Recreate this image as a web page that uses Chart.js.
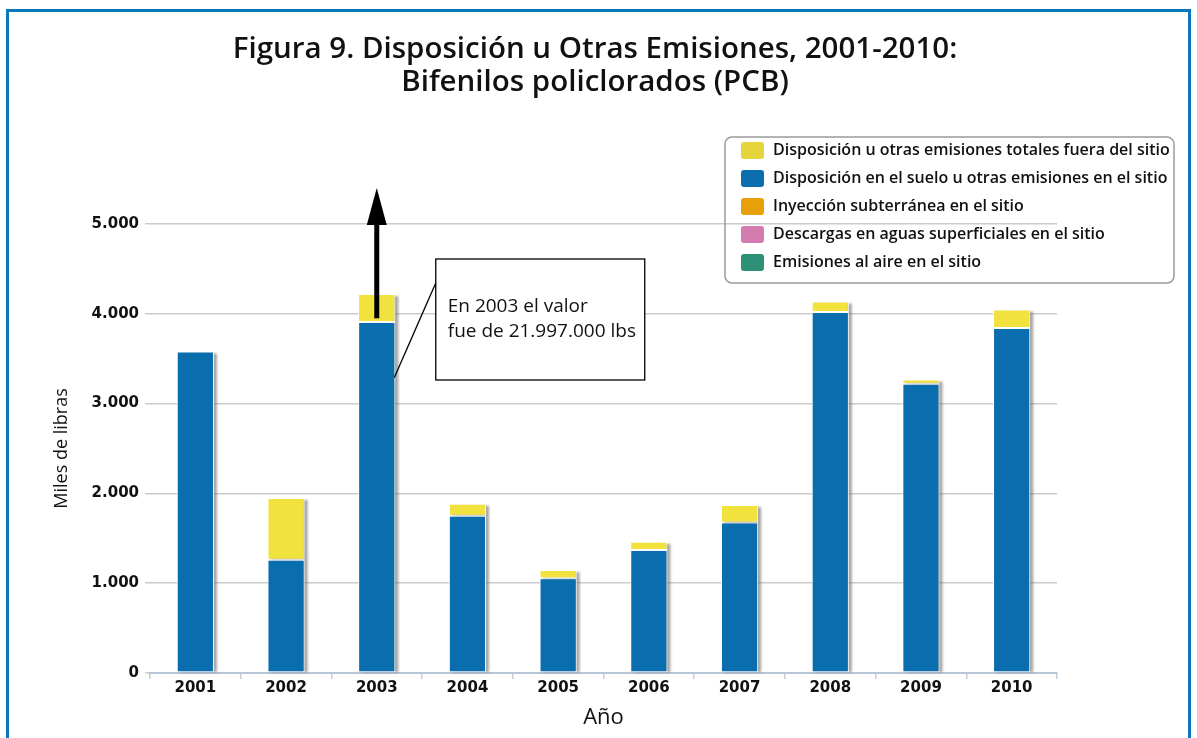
<!DOCTYPE html>
<html lang="es">
<head>
    <meta charset="UTF-8">
    <title>Figura 9 - PCB</title>
    <script src="https://cdn.jsdelivr.net/npm/chart.js"></script>
    <style>
        body { margin: 0; background: #fff; }
        .wrap { position: relative; width: 1197px; height: 738px; overflow: hidden; }
        .frame {
            position: absolute; left: 6px; top: 9px; width: 1185px; height: 780px;
            border: 3px solid #0b78bb; box-sizing: border-box; pointer-events: none;
        }
        canvas { position: absolute; left: 0; top: 0; }
    </style>
</head>
<body>
<div class="wrap">
    <canvas id="chart" width="1197" height="738"></canvas>
    <div class="frame"></div>
</div>

<script>
    // Datos (miles de libras)
    const years = ['2001', '2002', '2003', '2004', '2005', '2006', '2007', '2008', '2009', '2010'];
    const offSite     = [0, 690, 310, 134, 92, 90, 194, 115, 45, 204];
    const onSiteLand  = [3580, 1260, 3910, 1750, 1056, 1371, 1676, 4021, 3222, 3843];
    const underground = [0, 0, 0, 0, 0, 0, 0, 0, 0, 0];
    const surfaceWater = [0, 0, 0, 0, 0, 0, 0, 0, 0, 0];
    const airEmissions = [0, 0, 0, 0, 0, 0, 0, 0, 0, 0];
    const yTicks = [0, 1000, 2000, 3000, 4000, 5000];
    const titleLines = ['Figura 9. Disposición u Otras Emisiones, 2001-2010:', 'Bifenilos policlorados (PCB)'];

    const dotThousands = v => String(v).replace(/\B(?=(\d{3})+(?!\d))/g, '.');

    // titulo centrado en todo el recuadro
    const pageTitle = {
        id: 'pageTitle',
        afterDraw(chart) {
            const ctx = chart.ctx;
            ctx.save();
            ctx.fillStyle = '#111';
            ctx.font = '600 29.5px "Open Sans"';
            ctx.textAlign = 'center';
            ctx.textBaseline = 'middle';
            titleLines.forEach((t, k) => ctx.fillText(t, 595, 50 + k * 33));
            ctx.restore();
        }
    };

    // sombra gris a la derecha de cada columna
    const barShadow = {
        id: 'barShadow',
        beforeDatasetsDraw(chart) {
            const ctx = chart.ctx;
            const metas = chart.getSortedVisibleDatasetMetas();
            ctx.save();
            ctx.fillStyle = 'rgba(110,110,110,0.6)';
            ctx.filter = 'blur(1px)';
            years.forEach((y, i) => {
                let top = Infinity, base = null, el0 = null;
                metas.forEach(m => {
                    const el = m.data[i];
                    if (!chart.data.datasets[m.index].data[i]) return;
                    top = Math.min(top, el.y);
                    base = base === null ? el.base : Math.max(base, el.base);
                    el0 = el;
                });
                if (!el0) return;
                ctx.fillRect(el0.x - el0.width / 2 + 3, top + 2, el0.width, base - top - 2);
            });
            ctx.restore();
        }
    };

    // flecha y nota de 2003
    const note2003 = {
        id: 'note2003',
        afterDatasetsDraw(chart) {
            const ctx = chart.ctx;
            const xs = chart.scales.x, ys = chart.scales.y;
            const i = years.indexOf('2003');
            const x = xs.getPixelForValue(i);
            const yBase = ys.getPixelForValue(onSiteLand[i] + 40);
            const yTip = ys.getPixelForValue(5400);
            const headLen = 37, headW = 10;
            ctx.save();
            ctx.strokeStyle = '#000';
            ctx.fillStyle = '#000';
            ctx.lineWidth = 5;
            ctx.beginPath();
            ctx.moveTo(x, yBase);
            ctx.lineTo(x, yTip + headLen - 2);
            ctx.stroke();
            ctx.beginPath();
            ctx.moveTo(x, yTip);
            ctx.lineTo(x - headW, yTip + headLen);
            ctx.lineTo(x + headW, yTip + headLen);
            ctx.closePath();
            ctx.fill();

            // recuadro
            const bx = x + 59, by = 259, bw = 209, bh = 121;
            ctx.fillStyle = '#fff';
            ctx.fillRect(bx, by, bw, bh);
            ctx.lineWidth = 1.3;
            ctx.strokeRect(bx, by, bw, bh);
            const barEl = chart.getDatasetMeta(3).data[i];
            ctx.beginPath();
            ctx.moveTo(bx, by + 24);
            ctx.lineTo(barEl.x + barEl.width / 2 - 1, ys.getPixelForValue(3290));
            ctx.stroke();
            ctx.fillStyle = '#111';
            ctx.font = '19px "Open Sans"';
            ctx.textBaseline = 'middle';
            ctx.fillText('En 2003 el valor', bx + 12, by + 48);
            ctx.fillText('fue de 21.997.000 lbs', bx + 12, by + 73);
            ctx.restore();
        }
    };

    // leyenda en recuadro
    const boxLegend = {
        id: 'boxLegend',
        afterDraw(chart) {
            const ctx = chart.ctx;
            const left = 725, top = 137, w = 449, h = 146;
            ctx.save();
            ctx.strokeStyle = '#9a9a9a';
            ctx.lineWidth = 1.5;
            ctx.beginPath();
            ctx.roundRect(left, top, w, h, 7);
            ctx.stroke();
            const items = chart.data.datasets.slice().reverse();
            ctx.font = '600 16px "Open Sans"';
            ctx.textBaseline = 'middle';
            items.forEach((ds, k) => {
                const cy = top + 13 + k * 28;
                ctx.fillStyle = ds.legendColor || ds.backgroundColor;
                ctx.beginPath();
                ctx.roundRect(left + 16, cy - 8, 23, 17, 3);
                ctx.fill();
                ctx.fillStyle = '#111';
                ctx.fillText(ds.label, left + 48, cy);
            });
            ctx.restore();
        }
    };

    const bw = c => (c.raw ? 1 : 0);

    new Chart(document.getElementById('chart'), {
        type: 'bar',
        data: {
            labels: years,
            datasets: [
                { label: 'Emisiones al aire en el sitio', data: airEmissions, backgroundColor: '#2e9077' },
                { label: 'Descargas en aguas superficiales en el sitio', data: surfaceWater, backgroundColor: '#d47bb0' },
                { label: 'Inyección subterránea en el sitio', data: underground, backgroundColor: '#e7a008' },
                { label: 'Disposición en el suelo u otras emisiones en el sitio', data: onSiteLand, backgroundColor: '#0a6eae' },
                { label: 'Disposición u otras emisiones totales fuera del sitio', data: offSite, backgroundColor: '#f1e23e', legendColor: '#e6d43c' }
            ].map(d => Object.assign(d, { borderColor: '#fff', borderWidth: bw, borderSkipped: false }))
        },
        options: {
            responsive: false,
            animation: false,
            barPercentage: 0.41,
            categoryPercentage: 1,
            layout: { padding: { left: 0, right: 140, top: 224, bottom: 0 } },
            plugins: {
                legend: { display: false },
                tooltip: { enabled: false },
                title: { display: false }
            },
            scales: {
                x: {
                    stacked: true,
                    afterFit: s => { s.height = 65; },
                    grid: { offset: true, drawOnChartArea: false, tickLength: 6, color: '#c4ccd4', lineWidth: 1.5 },
                    border: { color: '#b6c6d6', width: 2 },
                    ticks: { color: '#111', padding: 0, font: { family: '"DejaVu Sans"', size: 15, weight: 'bold' } },
                    title: {
                        display: true, text: 'Año', color: '#111',
                        font: { family: '"Open Sans"', size: 22 }, padding: { top: 0, bottom: 7 }
                    }
                },
                y: {
                    stacked: true,
                    min: 0,
                    max: yTicks[yTicks.length - 1],
                    afterFit: s => { s.width = 150; },
                    afterBuildTicks: s => { s.ticks = yTicks.map(v => ({ value: v })); },
                    grid: { color: '#cbcbcb', lineWidth: 1.5, tickLength: 5 },
                    border: { display: false },
                    ticks: {
                        color: '#111', padding: 6,
                        font: { family: '"DejaVu Sans"', size: 15, weight: 'bold' },
                        callback: v => dotThousands(v)
                    },
                    title: {
                        display: true, text: 'Miles de libras', color: '#111',
                        font: { family: '"Open Sans"', size: 18 }, padding: { top: 51 }
                    }
                }
            }
        },
        plugins: [barShadow, note2003, boxLegend, pageTitle]
    });
</script>
</body>
</html>
